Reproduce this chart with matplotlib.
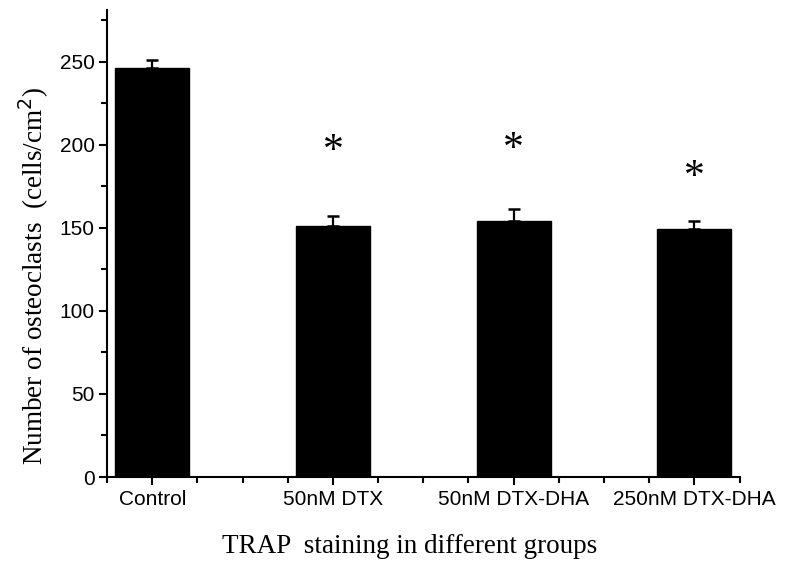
import matplotlib
matplotlib.use("Agg")
import matplotlib.pyplot as plt
from matplotlib.ticker import MultipleLocator

categories = ["Control", "50nM DTX", "50nM DTX-DHA", "250nM DTX-DHA"]
values = [246, 151, 154, 149]
errors = [5, 6, 7, 5]
star_heights = [None, 196, 197, 180]
yticks = [0, 50, 100, 150, 200, 250]

fig = plt.figure(figsize=(7.87, 5.73), dpi=100)
ax = fig.add_axes([0.136, 0.1675, 0.8037, 0.815])

x = list(range(1, len(categories) + 1))
ax.bar(x, values, width=0.41, color="black", edgecolor="black", zorder=2)
ax.errorbar(x, values, yerr=[[0] * len(errors), errors], fmt="none",
            ecolor="black", elinewidth=1.6, capsize=4, capthick=1.8, zorder=3)

for xi, h in zip(x, star_heights):
    if h is not None:
        ax.text(xi, h, "*", ha="center", va="center", fontsize=30,
                family="Liberation Serif", color="black")

ax.set_xlim(0.75, 4.25)
ax.set_ylim(0, 281)
ax.set_xticks(x)
ax.set_xticklabels(categories, family="Liberation Sans", fontsize=15)
ax.xaxis.set_minor_locator(MultipleLocator(0.25))
ax.set_yticks(yticks)
ax.set_yticklabels([str(t) for t in yticks], family="Liberation Sans", fontsize=15)
ax.yaxis.set_minor_locator(MultipleLocator(25))

for s in ["top", "right"]:
    ax.spines[s].set_visible(False)
for s in ["left", "bottom"]:
    ax.spines[s].set_linewidth(1.5)

ax.tick_params(axis="both", which="major", direction="out", length=6, width=1.5, pad=3)
ax.tick_params(axis="both", which="minor", direction="out", length=4, width=1.5)

ax.set_xlabel("TRAP  staining in different groups", family="Liberation Serif",
              fontsize=19.5, labelpad=18)
ax.set_ylabel("Number of osteoclasts  (cells/cm$^2$)", family="Liberation Serif",
              fontsize=19.5, labelpad=6)
ax.xaxis.label.set_x(0.479)
ax.yaxis.label.set_y(0.43)

fig.savefig("out.png", dpi=100, facecolor="white")
